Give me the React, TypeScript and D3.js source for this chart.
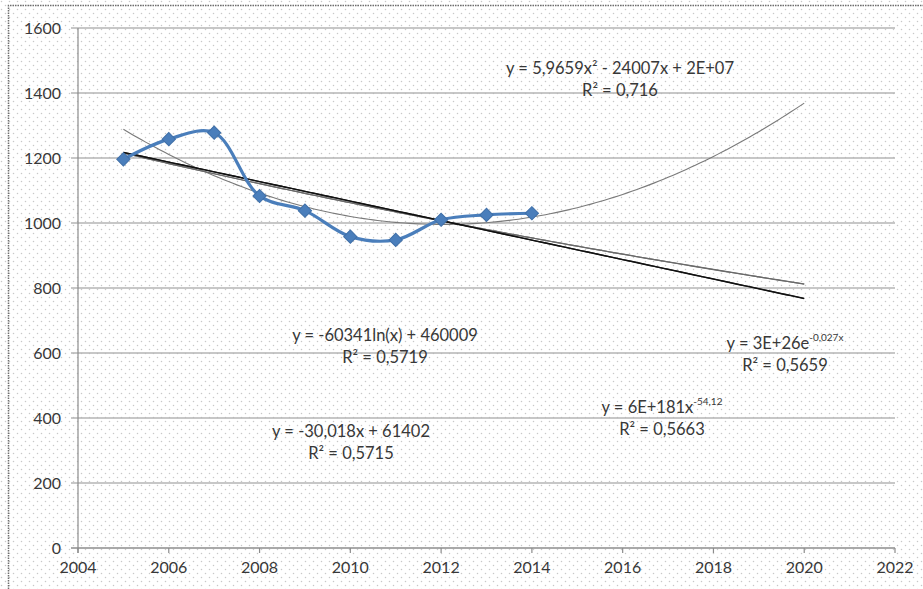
import React from "react";
import * as d3 from "d3";

// observed values
const years = [2005, 2006, 2007, 2008, 2009, 2010, 2011, 2012, 2013, 2014];
const values = [1196, 1258, 1278, 1083, 1038, 958, 948, 1010, 1025, 1030];
const yTicks = [0, 200, 400, 600, 800, 1000, 1200, 1400, 1600];
const xTicks = [2004, 2006, 2008, 2010, 2012, 2014, 2016, 2018, 2020, 2022];
const trendEnd = 2020;

// equation labels as printed on the chart
const eqPoly = ["y = 5,9659x² - 24007x + 2E+07", "", "R² = 0,716"];
const eqExp = ["y = 3E+26e", "-0,027x", "R² = 0,5659"];
const eqPow = ["y = 6E+181x", "-54,12", "R² = 0,5663"];
const eqLog = ["y = -60341ln(x) + 460009", "", "R² = 0,5719"];
const eqLin = ["y = -30,018x + 61402", "", "R² = 0,5715"];

const W = 923;
const H = 589;
const textColor = "#383838";
const font = "Lato, 'Open Sans', sans-serif";

// least squares helpers
const linFit = (xs: number[], ys: number[]) => {
  const mx = d3.mean(xs)!;
  const my = d3.mean(ys)!;
  let sxy = 0, sxx = 0;
  xs.forEach((x, i) => {
    sxy += (x - mx) * (ys[i] - my);
    sxx += (x - mx) * (x - mx);
  });
  const b = sxy / sxx;
  return { a: my - b * mx, b };
};

const quadFit = (xs: number[], ys: number[]) => {
  const c = d3.mean(xs)!;
  const u = xs.map((x) => x - c);
  const s = (p: number) => d3.sum(u, (v) => Math.pow(v, p));
  const t = (p: number) => d3.sum(u, (v, i) => Math.pow(v, p) * ys[i]);
  const n = xs.length;
  // normal equations 3x3
  const M = [
    [n, s(1), s(2), t(0)],
    [s(1), s(2), s(3), t(1)],
    [s(2), s(3), s(4), t(2)],
  ];
  for (let i = 0; i < 3; i++) {
    for (let k = i + 1; k < 3; k++) {
      const f = M[k][i] / M[i][i];
      for (let j = i; j < 4; j++) M[k][j] -= f * M[i][j];
    }
  }
  const r = [0, 0, 0];
  for (let i = 2; i >= 0; i--) {
    let v = M[i][3];
    for (let j = i + 1; j < 3; j++) v -= M[i][j] * r[j];
    r[i] = v / M[i][i];
  }
  return (x: number) => r[0] + r[1] * (x - c) + r[2] * (x - c) * (x - c);
};

const logYs = values.map(Math.log);
const logXs = years.map(Math.log);
const lin = linFit(years, values);
const lnF = linFit(logXs, values);
const expF = linFit(years, logYs);
const powF = linFit(logXs, logYs);
const quad = quadFit(years, values);

const trends = [
  { fn: (x: number) => quad(x), color: "#7a7a7a", w: 1.1 },
  { fn: (x: number) => Math.exp(expF.a + expF.b * x), color: "#6a6a6a", w: 1.2 },
  { fn: (x: number) => Math.exp(powF.a + powF.b * Math.log(x)), color: "#6a6a6a", w: 1.2 },
  { fn: (x: number) => lnF.a + lnF.b * Math.log(x), color: "#222", w: 1.3 },
  { fn: (x: number) => lin.a + lin.b * x, color: "#111", w: 1.4 },
];

// where each equation box sits (pixel centre of first line)
const labelLayout = [
  { eq: eqPoly, cx: 620, cy: 68 },
  { eq: eqExp, cx: 785, cy: 343 },
  { eq: eqPow, cx: 662, cy: 407 },
  { eq: eqLog, cx: 385, cy: 335 },
  { eq: eqLin, cx: 351, cy: 431 },
];

export default function App() {
  const x = d3.scaleLinear().domain([2004, 2022]).range([78, 895]);
  const y = d3.scaleLinear().domain([0, 1600]).range([548, 28]);

  const samples = d3.range(years[0], trendEnd + 0.001, 0.1);
  const trendLine = (fn: (v: number) => number) =>
    d3
      .line<number>()
      .x((d) => x(d))
      .y((d) => y(fn(d)))(samples) || "";

  const seriesLine =
    d3
      .line<number>()
      .x((d, i) => x(years[i]))
      .y((d) => y(d))
      .curve(d3.curveCatmullRom.alpha(0.5))(values) || "";

  const diamond = d3.symbol(d3.symbolSquare, 88)() || "";

  return (
    <svg
      width={W}
      height={H}
      style={{ position: "absolute", left: 0, top: 0, fontFamily: font }}
    >
      <defs>
        <pattern id="dots" width={8} height={8} patternUnits="userSpaceOnUse">
          <rect width={8} height={8} fill="#ffffff" />
          <circle cx={1.5} cy={1.5} r={0.75} fill="#c8c8c8" />
          <circle cx={5.5} cy={5.5} r={0.75} fill="#c8c8c8" />
        </pattern>
      </defs>
      <rect width={W} height={H} fill="url(#dots)" />
      {/* outer dotted frame */}
      <path
        d={`M8.5,${H} V5.5 H${W}`}
        fill="none"
        stroke="#6e6e6e"
        strokeWidth={1.5}
        strokeDasharray="1.5,1"
      />

      {/* gridlines + y labels */}
      {yTicks.map((t) => (
        <g key={t}>
          <line
            x1={71}
            x2={x(2022)}
            y1={y(t)}
            y2={y(t)}
            stroke={t === 0 ? "#8c8c8c" : "#b4b4b4"}
            strokeWidth={1.4}
          />
          <text
            x={61}
            y={y(t)}
            dy="0.35em"
            textAnchor="end"
            fontSize={16}
            fill={textColor}
          >
            {t}
          </text>
        </g>
      ))}
      <line x1={x(2004)} x2={x(2004)} y1={y(1600)} y2={y(0) + 5} stroke="#8c8c8c" strokeWidth={1.2} />

      {/* x ticks + labels */}
      {xTicks.map((t) => (
        <g key={t}>
          <line x1={x(t)} x2={x(t)} y1={y(0)} y2={y(0) + 5} stroke="#8c8c8c" strokeWidth={1.2} />
          <text
            x={x(t)}
            y={y(0) + 25}
            textAnchor="middle"
            fontSize={16}
            fill={textColor}
          >
            {t}
          </text>
        </g>
      ))}

      {/* trend lines */}
      {trends.map((tr, i) => (
        <path
          key={i}
          d={trendLine(tr.fn)}
          fill="none"
          stroke={tr.color}
          strokeWidth={tr.w}
        />
      ))}

      {/* observed series */}
      <path d={seriesLine} fill="none" stroke="#4a7ebb" strokeWidth={3.2} />
      {values.map((v, i) => (
        <path
          key={i}
          d={diamond}
          transform={`translate(${x(years[i])},${y(v)}) rotate(45)`}
          fill="#4a7ebb"
          stroke="#3f6fa8"
          strokeWidth={1}
        />
      ))}

      {/* equations */}
      {labelLayout.map((l, i) => (
        <g key={i} fill={textColor} fontSize={16.5}>
          <text x={l.cx} y={l.cy} dy="0.35em" textAnchor="middle">
            {l.eq[0]}
            {l.eq[1] && (
              <tspan fontSize={10} dy="-0.75em">
                {l.eq[1]}
              </tspan>
            )}
          </text>
          <text x={l.cx} y={l.cy + 22} dy="0.35em" textAnchor="middle">
            {l.eq[2]}
          </text>
        </g>
      ))}
    </svg>
  );
}
